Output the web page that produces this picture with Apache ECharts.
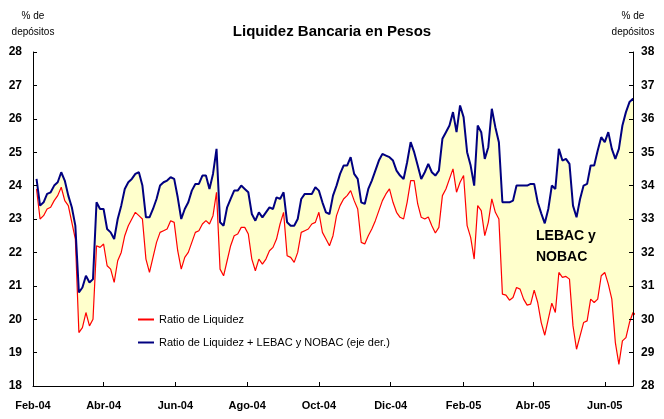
<!DOCTYPE html>
<html>
<head>
<meta charset="utf-8">
<script src="https://cdn.jsdelivr.net/npm/echarts@6/dist/echarts.min.js"></script>
<style>
  html, body { margin: 0; padding: 0; background: #fff; }
  #main { width: 664px; height: 419px; }
</style>
</head>
<body>
<div id="main"></div>
<script>
// serie diaria: una observacion cada 3 dias desde el 4-feb-04
var fechaInicio = [2004, 1, 4];
var pasoDias = 3;

// Ratio de Liquidez (% de depositos, eje izq.)
var ratioLiquidez = [
  23.9, 23.0, 23.1, 23.3, 23.35, 23.55, 23.7, 23.95, 23.55, 23.4,
  22.9, 22.4, 19.6, 19.75, 20.2, 19.8, 20.0, 22.2, 22.15, 22.25,
  21.6, 21.5, 21.1, 21.75, 22.0, 22.5, 22.8, 23.0, 23.2, 23.1,
  23.0, 21.8, 21.4, 21.85, 22.3, 22.6, 22.65, 22.7, 22.95, 22.9,
  22.05, 21.5, 21.85, 22.0, 22.3, 22.6, 22.65, 22.85, 22.95, 22.85,
  23.1, 23.8, 21.5, 21.3, 21.75, 22.2, 22.5, 22.55, 22.75, 22.75,
  22.55, 21.8, 21.45, 21.8, 21.65, 21.8, 22.05, 22.15, 22.4, 22.85,
  23.2, 21.9, 21.85, 21.7, 22.0, 22.6, 22.65, 22.7, 22.85, 22.9,
  23.2, 22.6, 22.4, 22.2, 22.5, 23.1, 23.4, 23.6, 23.7, 23.85,
  23.55, 23.3, 22.3, 22.25, 22.5, 22.7, 22.95, 23.25, 23.55, 23.75,
  23.9, 23.5, 23.2, 23.05, 23.0, 23.5, 24.15, 24.15, 23.45, 23.05,
  23.0, 23.06, 22.8, 22.58, 22.75, 23.7, 23.9, 24.2, 24.5, 23.8,
  24.1, 24.3, 22.8, 22.45, 21.8, 23.4, 23.25, 22.5, 22.9, 23.6,
  23.2, 23.0, 20.75, 20.72, 20.57, 20.65, 20.95, 20.9, 20.6, 20.42,
  20.45, 20.87, 20.5, 19.9, 19.52, 20.0, 20.48, 20.2, 21.4, 21.25,
  21.28, 21.2, 19.8, 19.1, 19.5, 19.9, 19.95, 20.6, 20.5, 20.6,
  21.3, 21.4, 21.05, 20.6, 19.3, 18.65, 19.35, 19.45, 19.9, 20.2,
  20.1
];

// Ratio de Liquidez + LEBAC y NOBAC (eje der.)
var ratioConLetras = [
  34.2, 33.4, 33.5, 33.75, 33.8, 34.0, 34.1, 34.4, 34.15, 33.7,
  33.35, 32.8, 30.8, 30.95, 31.3, 31.1, 31.2, 33.5, 33.3, 33.3,
  32.7, 32.6, 32.4, 33.0, 33.4, 33.9, 34.1, 34.2, 34.35, 34.4,
  34.0, 33.05, 33.05, 33.3, 33.6, 34.0, 34.1, 34.15, 34.25, 34.2,
  33.65, 33.0, 33.3, 33.5, 33.85, 34.05, 34.05, 34.3, 34.3, 33.9,
  34.35, 35.1, 32.9, 32.8, 33.35, 33.6, 33.85, 33.85, 34.0, 33.9,
  33.8, 33.15, 32.95, 33.2, 33.05, 33.2, 33.35, 33.3, 33.65, 33.6,
  33.8, 32.9, 32.8, 32.8, 33.0, 33.6, 33.75, 33.75, 33.75, 33.95,
  33.85, 33.5, 33.2, 33.15, 33.7, 34.0, 34.35, 34.6, 34.6, 34.85,
  34.35, 34.2, 33.5, 33.45, 33.9, 34.15, 34.45, 34.75, 34.95, 34.9,
  34.85, 34.75, 34.45, 34.3, 34.2, 34.7, 35.3, 35.0, 34.6, 34.2,
  34.4, 34.65, 34.4, 34.3, 34.45, 35.4, 35.6, 35.8, 36.2, 35.6,
  36.4, 36.05, 35.0, 34.6, 34.0, 35.8, 35.6, 34.8, 35.15, 36.3,
  35.75, 35.3, 33.5, 33.5, 33.5, 33.55, 34.0, 34.0, 34.0, 34.0,
  34.05, 34.05, 33.5, 33.17, 32.87, 33.3, 34.0, 33.9, 35.1, 34.75,
  34.8, 34.65, 33.4, 33.05, 33.6, 34.0, 34.05, 34.6, 34.6, 35.05,
  35.45, 35.3, 35.6, 35.1, 34.8, 35.1, 35.8, 36.2, 36.5, 36.6,
  36.5
];

// el eje derecho va 10 puntos por encima del izquierdo
var desfaseEjes = 10;

// marcas del eje x (cada dos meses)
var marcasFechas = [[2004, 1], [2004, 3], [2004, 5], [2004, 7], [2004, 9], [2004, 11],
                    [2005, 1], [2005, 3], [2005, 5]];
var marcasTexto = ['Feb-04', 'Abr-04', 'Jun-04', 'Ago-04', 'Oct-04', 'Dic-04',
                   'Feb-05', 'Abr-05', 'Jun-05'];

var fechas = ratioLiquidez.map(function (v, i) {
  return new Date(fechaInicio[0], fechaInicio[1], fechaInicio[2] + i * pasoDias).getTime();
});
var marcas = marcasFechas.map(function (m) { return new Date(m[0], m[1], 1).getTime(); });

var fuente = 'Liberation Sans, Arial, sans-serif';
var ejeY = {
  type: 'value', interval: 1, z: 10,
  name: '% de\ndepósitos',
  nameLocation: 'end',
  nameGap: 12,
  nameTextStyle: { fontFamily: fuente, fontSize: 10, color: '#000', lineHeight: 16, align: 'center' },
  splitLine: { show: false },
  axisLine: { show: true, lineStyle: { color: '#000', width: 1 } },
  axisTick: { show: true, inside: true, length: 4, lineStyle: { color: '#000' } }
};

var chart = echarts.init(document.getElementById('main'));
var option = {
  backgroundColor: '#fff',
  animation: false,
  title: {
    text: 'Liquidez Bancaria en Pesos',
    left: 'center',
    top: 19,
    textStyle: { fontFamily: fuente, fontSize: 15, fontWeight: 'bold', color: '#000' }
  },
  legend: {
    orient: 'vertical',
    z: 20,
    left: 133,
    top: 309,
    itemGap: 12,
    itemWidth: 16,
    itemHeight: 2,
    icon: 'rect',
    textStyle: { fontFamily: fuente, fontSize: 11, color: '#000' },
    data: ['Ratio de Liquidez', 'Ratio de Liquidez + LEBAC y NOBAC (eje der.)']
  },
  grid: { left: 33, right: 31, top: 52, bottom: 33 },
  xAxis: {
    type: 'value',
    z: 10,
    min: new Date(2004, 1, 1).getTime(),
    max: new Date(2005, 5, 25).getTime(),
    splitLine: { show: false },
    axisLine: { lineStyle: { color: '#000', width: 1 } },
    axisTick: { inside: true, length: 4, lineStyle: { color: '#000' }, customValues: marcas },
    axisLabel: {
      customValues: marcas,
      margin: 14,
      fontFamily: fuente, fontSize: 11, fontWeight: 'bold', color: '#000',
      formatter: function (v) {
        var k = marcas.indexOf(v);
        return k >= 0 ? marcasTexto[k] : '';
      }
    }
  },
  yAxis: [
    Object.assign({}, ejeY, {
      min: 18, max: 28,
      axisLabel: { margin: 11, fontFamily: fuente, fontSize: 12, fontWeight: 'bold', color: '#000' }
    }),
    Object.assign({}, ejeY, {
      min: 28, max: 38,
      axisLabel: { margin: 8, fontFamily: fuente, fontSize: 12, fontWeight: 'bold', color: '#000' }
    })
  ],
  graphic: [{
    type: 'text',
    z: 100,
    left: 536,
    top: 226,
    style: {
      text: 'LEBAC y\nNOBAC',
      fontFamily: fuente, fontSize: 14, fontWeight: 'bold',
      fill: '#000', align: 'center', lineHeight: 21
    }
  }],
  series: [
    {
      // area amarilla: debajo de la serie con letras (llevada al eje izquierdo)
      name: 'area letras',
      type: 'line',
      z: 1,
      silent: true,
      symbol: 'none',
      lineStyle: { width: 0, opacity: 0 },
      areaStyle: { color: '#FFFFCC', opacity: 1, origin: 'start' },
      data: fechas.map(function (t, i) { return [t, ratioConLetras[i] - desfaseEjes]; })
    },
    {
      // tapa en blanco lo que queda debajo del ratio de liquidez
      name: 'area base',
      type: 'line',
      z: 1,
      silent: true,
      symbol: 'none',
      lineStyle: { width: 0, opacity: 0 },
      areaStyle: { color: '#FFFFFF', opacity: 1, origin: 'start' },
      data: fechas.map(function (t, i) { return [t, ratioLiquidez[i]]; })
    },
    {
      name: 'Ratio de Liquidez',
      type: 'line',
      z: 3,
      symbol: 'none',
      color: '#FF0000',
      lineStyle: { color: '#FF0000', width: 1.2 },
      data: fechas.map(function (t, i) { return [t, ratioLiquidez[i]]; })
    },
    {
      name: 'Ratio de Liquidez + LEBAC y NOBAC (eje der.)',
      type: 'line',
      z: 4,
      yAxisIndex: 1,
      symbol: 'none',
      color: '#000080',
      lineStyle: { color: '#000080', width: 2 },
      data: fechas.map(function (t, i) { return [t, ratioConLetras[i]]; })
    }
  ]
};
chart.setOption(option);
</script>
</body>
</html>
